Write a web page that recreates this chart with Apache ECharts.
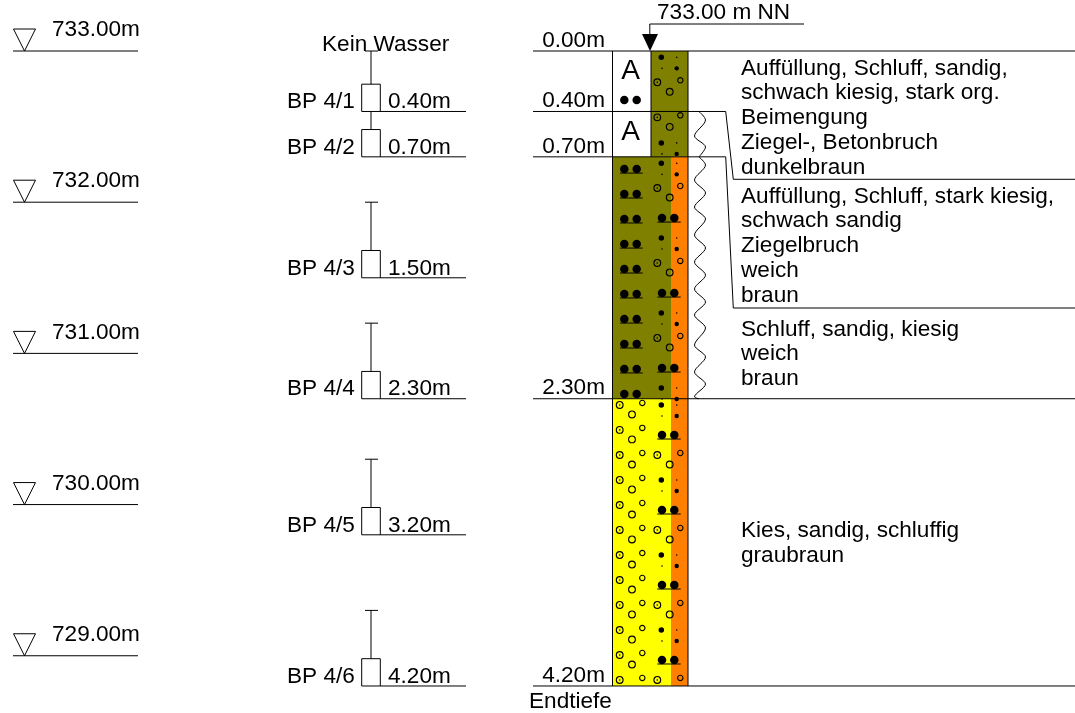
<!DOCTYPE html>
<html><head><meta charset="utf-8">
<style>html,body{margin:0;padding:0;background:#fff}#c{width:1075px;height:713px}</style>
<script src="https://cdn.jsdelivr.net/npm/echarts@6/dist/echarts.min.js"></script>
</head><body><div id="c"></div>
<script>
// ---- data (depths in metres below ground level) ----
const groundElevation = 733;
const elevationLevels = [733, 732, 731, 730, 729];
const layerBoundaries = [0, 0.4, 0.7, 2.3, 4.2];
const layerBoundaryLabels = ['0.00m', '0.40m', '0.70m', '2.30m', '4.20m'];
const sampleNames = ['BP 4/1', 'BP 4/2', 'BP 4/3', 'BP 4/4', 'BP 4/5', 'BP 4/6'];
const sampleBottoms = [0.4, 0.7, 1.5, 2.3, 3.2, 4.2];
const sampleStemTops = [0, 0.4, 1.0, 1.8, 2.7, 3.7];
const sampleLabels = ['0.40m', '0.70m', '1.50m', '2.30m', '3.20m', '4.20m'];
const descriptionLines = ['Auffüllung, Schluff, sandig,', 'schwach kiesig, stark org.', 'Beimengung', 'Ziegel-, Betonbruch', 'dunkelbraun',
  'Auffüllung, Schluff, stark kiesig,', 'schwach sandig', 'Ziegelbruch', 'weich', 'braun',
  'Schluff, sandig, kiesig', 'weich', 'braun', 'Kies, sandig, schluffig', 'graubraun'];
const dotRowDepths = [0.042, 0.608, 0.743, 1.237, 1.733, 2.229, 2.341, 2.837, 3.334, 3.830];
const circleRowDepths = [0.207, 0.439, 0.906, 1.402, 1.898, 2.672, 3.168, 3.664, 4.160];
const pairRowDepths = [1.105, 1.601, 2.097, 2.540, 3.036, 3.532, 4.028];
const leftPairRowDepths = [0.324, 0.781, 0.946, 1.111, 1.277, 1.442, 1.607, 1.773, 1.938, 2.103, 2.269];
const gravelRowDepths = [2.341, 2.506, 2.672, 2.837, 3.003, 3.168, 3.334, 3.499, 3.664, 3.830, 3.995, 4.160];
const waveUpperDepths = [0.4, 0.456, 0.562, 0.635, 0.7];
const waveLowerDepths = [0.7, 0.754, 0.853, 0.939, 1.032, 1.111, 1.217, 1.303, 1.396, 1.482, 1.574, 1.660, 1.746, 1.832, 1.945, 2.024, 2.123, 2.203, 2.288, 2.3];

// ---- layout ----
const PX = 151.19, TOP = 51, px = v => v / PX;
const colL = 612, colM = 651, colS = 671, colR = 688;
const layerFills = [
  [0, 0.7, colM, colR, '#808000'],
  [0.7, 2.3, colL, colS, '#808000'],
  [0.7, 4.2, colS, colR, '#ff8000'],
  [2.3, 4.2, colL, colS, '#ffff00']
];
const font = '22.6px "Liberation Sans", Arial, sans-serif';
const descY = [69, 93, 118, 143, 168, 197, 221, 246, 271, 296, 330, 354, 379, 531, 556];

// line segments [x1, depth1, x2, depth2]
const segs = [];
elevationLevels.forEach(e => segs.push([13, groundElevation - e, 138, groundElevation - e]));
layerBoundaries.forEach((d, i) => {
  if (i === 1) { segs.push([533, d, 725.7, d], [725.7, d, 733.3, px(179.3 - TOP)], [733.3, px(179.3 - TOP), 1075, px(179.3 - TOP)]); }
  else if (i === 2) { segs.push([533, d, 725.7, d], [725.7, d, 733.3, px(308 - TOP)], [733.3, px(308 - TOP), 1075, px(308 - TOP)]); }
  else segs.push([533, d, 1075, d]);
});
segs.push([colL + 0.5, 0, colL + 0.5, 4.2], [colR, 0, colR, 4.2], [colM, 0, colM, 0.7]);
sampleBottoms.forEach((b, i) => {
  const top = b - px(27.3), s = sampleStemTops[i];
  segs.push([361.7, b, 466, b], [361.7, top, 380.3, top], [361.7, top, 361.7, b], [380.3, top, 380.3, b], [371, s, 371, top]);
  if (i !== 1) segs.push([365, s, 378, s]);
});
segs.push([649.8, px(24 - TOP), 804, px(24 - TOP)], [649.8, px(24 - TOP), 649.8, px(36 - TOP)]);
pairRowDepths.forEach(d => segs.push([657.3, d + px(4), 680.7, d + px(4)]));
leftPairRowDepths.slice(1, -1).forEach(d => { if (d > 0.7) segs.push([620, d + px(4), 642.7, d + px(4)]); });

// symbol positions
const bigDots = [], medDots = [], tiny = [], pairDots = [], ringB = [], ringC = [];
dotRowDepths.forEach(d => {
  bigDots.push([661.3, d]); tiny.push([676.7, d]); tiny.push([662, d + px(11)]); medDots.push([676.7, d + px(11)]);
});
circleRowDepths.forEach(d => {
  ringC.push([657.3, d]); tiny.push([657.3, d]); ringB.push([680.3, d - px(2)]);
  if (d + px(9.5) < 4.2) ringC.push([669.7, d + px(9.5)]);
});
pairRowDepths.forEach(d => { pairDots.push([662, d], [674.3, d]); });
leftPairRowDepths.forEach(d => { pairDots.push([624.3, d], [636.7, d]); });
gravelRowDepths.forEach(d => {
  ringC.push([619.7, d]); tiny.push([619.7, d]); ringB.push([642.3, d - px(2)]);
  if (d + px(9.5) < 4.2) ringC.push([632, d + px(9.5)]);
});

// text items [text, x, depth, yOffset, align]
const texts = [];
elevationLevels.forEach(e => texts.push([e.toFixed(2) + 'm', 52, groundElevation - e, -21, 'left']));
layerBoundaries.forEach((d, i) => texts.push([layerBoundaryLabels[i], 605, d, -10.5, 'right']));
sampleBottoms.forEach((b, i) => {
  texts.push([sampleNames[i], 287, b, -9.5, 'left']);
  texts.push([sampleLabels[i], 388, b, -9.5, 'left']);
});
descriptionLines.forEach((t, i) => texts.push([t, 741, px(descY[i] - TOP), 0, 'left']));
texts.push(['Kein Wasser', 322, px(45 - TOP), 0, 'left']);
texts.push(['733.00 m NN', 657, px(13 - TOP), 0, 'left']);
texts.push(['Endtiefe', 529, px(702 - TOP), 0, 'left']);

const scatter = (name, data, size, fill, stroke) => ({
  name, type: 'scatter', data, symbol: 'circle', symbolSize: size, silent: true, z: 5,
  itemStyle: { color: fill, borderColor: stroke || fill, borderWidth: stroke ? 1.1 : 0, opacity: 1 }
});
const wave = (depths, name) => ({
  name, type: 'line', smooth: 0.3, symbol: 'none', silent: true, z: 4,
  lineStyle: { color: '#000', width: 1 },
  data: depths.map((d, i) => [i === 0 || i === depths.length - 1 ? 699 : (i % 2 ? 705.5 : 694.5), d])
});

const chart = echarts.init(document.getElementById('c'), null, { renderer: 'canvas' });
chart.setOption({
  animation: false, backgroundColor: '#fff',
  grid: { left: 0, right: 0, top: 0, bottom: 0 },
  xAxis: { type: 'value', min: 0, max: 1075, show: false },
  yAxis: { type: 'value', inverse: true, min: -TOP / PX, max: (713 - TOP) / PX, show: false },
  series: [
    { name: 'Schichten', type: 'custom', silent: true, z: 1, data: layerFills.map((_, i) => [i]),
      renderItem: (p, api) => {
        const [t, b, x1, x2, fill] = layerFills[p.dataIndex];
        const a = api.coord([x1, t]), c = api.coord([x2, b]);
        return { type: 'rect', shape: { x: a[0], y: a[1], width: c[0] - a[0], height: c[1] - a[1] }, style: { fill } };
      } },
    { name: 'Linien', type: 'custom', silent: true, z: 3, data: segs.map((_, i) => [i]),
      renderItem: (p, api) => {
        const s = segs[p.dataIndex], a = api.coord([s[0], s[1]]), b = api.coord([s[2], s[3]]);
        return { type: 'line', shape: { x1: a[0], y1: a[1], x2: b[0], y2: b[1] }, style: { stroke: '#000', lineWidth: 1, fill: null } };
      } },
    wave(waveUpperDepths, 'Konsistenz 1'),
    wave(waveLowerDepths, 'Konsistenz 2'),
    scatter('Kies1', ringC, 6.8, 'rgba(0,0,0,0)', '#000'),
    scatter('Kies2', ringB, 5.4, 'rgba(0,0,0,0)', '#000'),
    scatter('Steine', pairDots, 8.5, '#000'),
    scatter('Punkte gross', bigDots, 5.5, '#000'),
    scatter('Punkte mittel', medDots, 4.4, '#000'),
    scatter('Punkte klein', tiny, 1.6, '#000'),
    { name: 'Höhen', type: 'scatter', silent: true, z: 6, symbol: 'triangle', symbolRotate: 180,
      symbolSize: 22, symbolOffset: [0, -11],
      data: elevationLevels.map(e => [24.5, groundElevation - e]),
      itemStyle: { color: 'rgba(0,0,0,0)', borderColor: '#000', borderWidth: 1, opacity: 1 } },
    { name: 'Ansatz', type: 'scatter', silent: true, z: 6, symbol: 'triangle', symbolRotate: 180,
      symbolSize: [16, 17], symbolOffset: [0, -8.5], data: [[650, 0]], itemStyle: { color: '#000', opacity: 1 } },
    { name: 'Bohrgut', type: 'custom', silent: true, z: 7, data: [[0], [1]],
      renderItem: (p, api) => {
        const c = api.coord([630.7, px((p.dataIndex ? 132 : 71) - TOP)]);
        return { type: 'text', style: { text: 'A', x: c[0], y: c[1], fill: '#000', font: '28px "Liberation Sans", Arial, sans-serif', textAlign: 'center', textVerticalAlign: 'middle' } };
      } },
    { name: 'Texte', type: 'custom', silent: true, z: 8, data: texts.map((_, i) => [i]),
      renderItem: (p, api) => {
        const t = texts[p.dataIndex], c = api.coord([t[1], t[2]]);
        return { type: 'text', style: { text: t[0], x: c[0], y: c[1] + t[3], fill: '#000', font, textAlign: t[4], textVerticalAlign: 'middle' } };
      } }
  ]
});
</script></body></html>
